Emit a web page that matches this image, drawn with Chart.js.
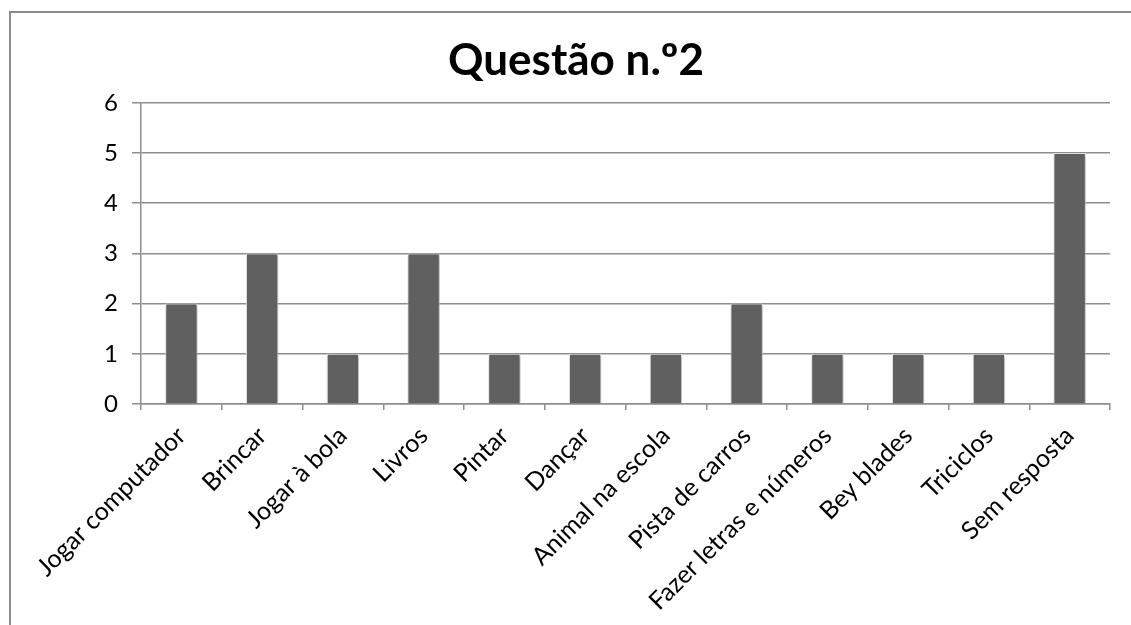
<!DOCTYPE html>
<html>
<head>
<meta charset="utf-8">
<script src="https://cdn.jsdelivr.net/npm/chart.js"></script>
<style>
  body { margin: 0; background: #fff; }
</style>
</head>
<body>
<canvas id="questaoChart" width="1131" height="625"></canvas>
<script>
var categorias = [
  "Jogar computador", "Brincar", "Jogar à bola", "Livros", "Pintar", "Dançar",
  "Animal na escola", "Pista de carros", "Fazer letras e números", "Bey blades",
  "Triciclos", "Sem resposta"
];
var respostas = [2, 3, 1, 3, 1, 1, 1, 2, 1, 1, 1, 5];
var titulo = "Questão n.º2";

// moldura cinzenta do gráfico (esquerda e topo)
var moldura = {
  id: "moldura",
  beforeDraw: function (chart) {
    var c = chart.ctx;
    c.save();
    c.strokeStyle = "#8c8c8c";
    c.lineWidth = 2;
    c.beginPath();
    c.moveTo(10, 625);
    c.lineTo(10, 12);
    c.lineTo(1131, 12);
    c.stroke();
    c.restore();
  }
};

// sombra leve nas barras
var sombra = {
  id: "sombra",
  beforeDatasetsDraw: function (chart) {
    var c = chart.ctx;
    c.save();
    c.shadowColor = "rgba(0,0,0,0.35)";
    c.shadowBlur = 4;
    c.shadowOffsetX = 1;
    c.shadowOffsetY = 1;
  },
  afterDatasetsDraw: function (chart) {
    chart.ctx.restore();
  }
};

var ctx = document.getElementById("questaoChart");

var myBarChart = new Chart(ctx, {
  type: "bar",
  data: {
    labels: categorias,
    datasets: [
      {
        label: "total",
        data: respostas,
        backgroundColor: "#606060",
        borderColor: "#f4f4f4",
        borderWidth: 1,
        categoryPercentage: 1,
        barPercentage: 0.4
      }
    ]
  },
  options: {
    responsive: false,
    animation: false,
    layout: {
      padding: { left: 42, right: 21, top: 0, bottom: 0 }
    },
    plugins: {
      legend: { display: false },
      tooltip: { enabled: false },
      title: {
        display: true,
        text: titulo,
        color: "#000",
        font: { family: "Lato", size: 44, weight: "bold", lineHeight: 1.2 },
        padding: { top: 34, bottom: 16 }
      }
    },
    scales: {
      y: {
        min: 0,
        max: 6,
        ticks: {
          stepSize: 1,
          color: "#000",
          padding: 14,
          font: { family: "Lato", size: 24 }
        },
        grid: {
          color: "#8e8e8e",
          lineWidth: 1.5,
          tickLength: 9
        },
        border: { color: "#8e8e8e", width: 1.5 },
        afterFit: function (scale) {
          scale.width = 99;
        }
      },
      x: {
        ticks: {
          color: "#000",
          minRotation: 45,
          maxRotation: 45,
          autoSkip: false,
          padding: 11,
          font: { family: "Lato", size: 25 }
        },
        grid: {
          drawOnChartArea: false,
          color: "#8e8e8e",
          lineWidth: 1.5,
          tickLength: 6
        },
        border: { color: "#8e8e8e", width: 1.5 },
        afterFit: function (scale) {
          scale.height = 221;
        }
      }
    }
  },
  plugins: [moldura, sombra]
});
</script>
</body>
</html>
